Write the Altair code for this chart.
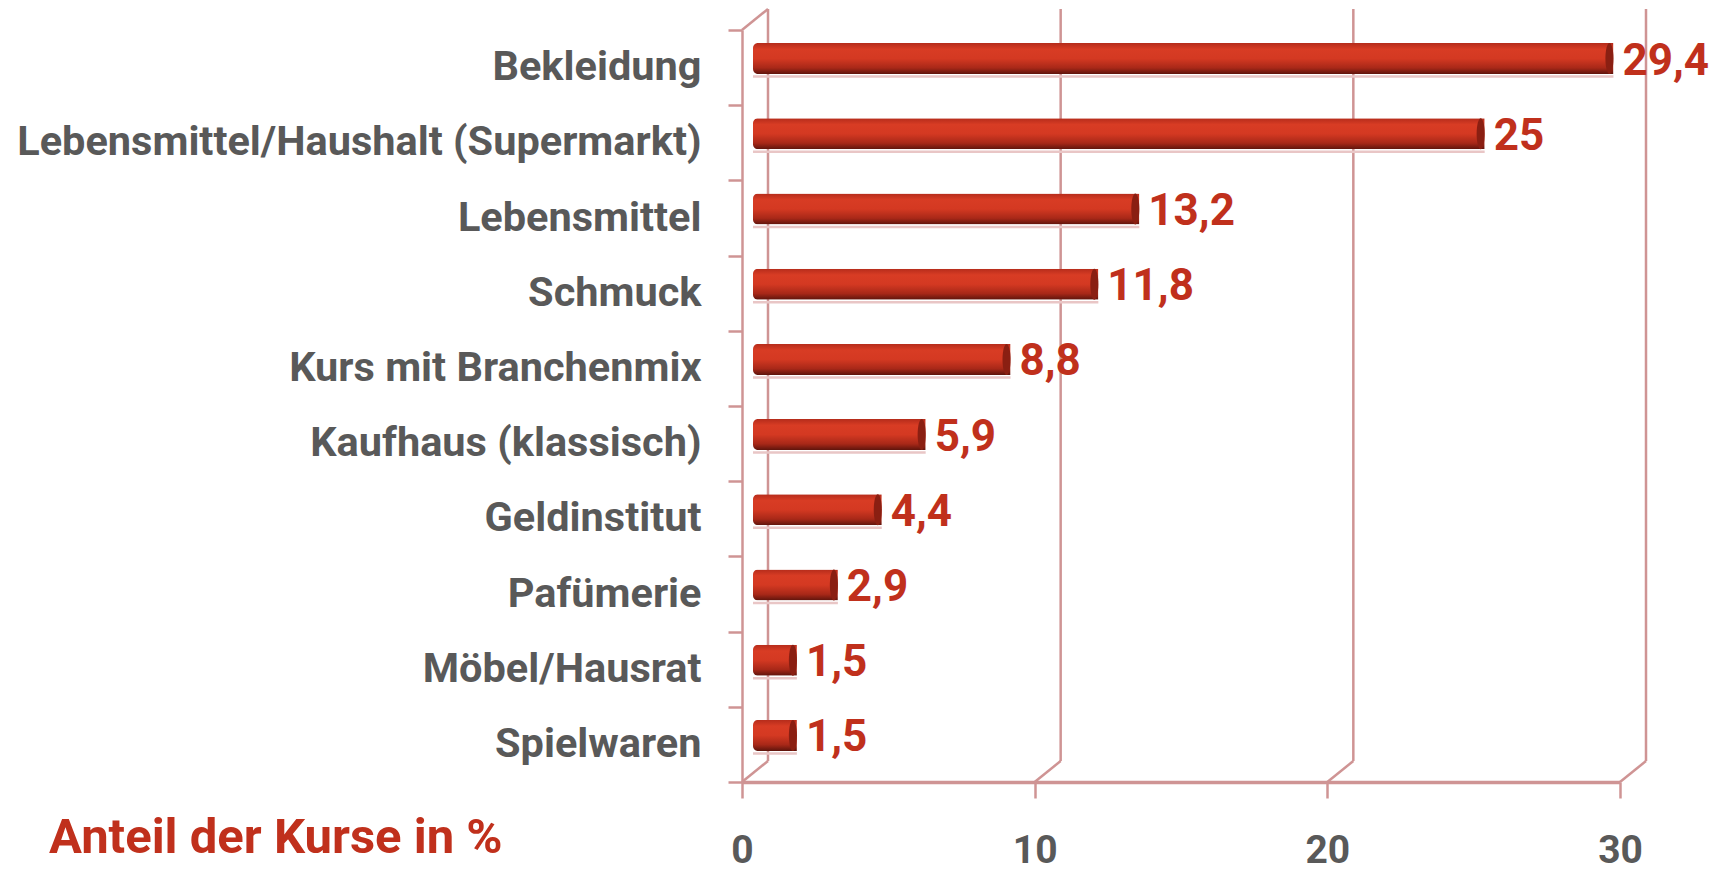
import altair as alt
import pandas as pd

categories = [
    "Bekleidung",
    "Lebensmittel/Haushalt (Supermarkt)",
    "Lebensmittel",
    "Schmuck",
    "Kurs mit Branchenmix",
    "Kaufhaus (klassisch)",
    "Geldinstitut",
    "Pafümerie",
    "Möbel/Hausrat",
    "Spielwaren",
]
values = [29.4, 25, 13.2, 11.8, 8.8, 5.9, 4.4, 2.9, 1.5, 1.5]
tick_values = [0, 10, 20, 30]
title_text = "Anteil der Kurse in %"

df = pd.DataFrame({"Branche": categories, "Anteil": values})
ticks_df = pd.DataFrame({"t": tick_values})
zero_df = pd.DataFrame({"t": [tick_values[0]]})
title_df = pd.DataFrame({"t": [title_text]})

FONT = "Roboto"
PINK = "#CF9494"
GREY = "#595959"
RED = "#C0301C"
W, H = 878, 752
DEPTH = 26   # back-wall offset in px
RISE = 21
MID = 11     # bars sit half-way between front and back

front = alt.Scale(domain=[0, 30], nice=False, zero=True, range=[0, W])
mid = alt.Scale(domain=[0, 30], nice=False, zero=True, range=[MID, W + MID])
back = alt.Scale(domain=[0, 30], nice=False, zero=True, range=[DEPTH, W + DEPTH])
yscale = alt.Scale(paddingInner=0, paddingOuter=0)

xaxis = alt.Axis(
    values=tick_values, grid=False, title=None, format="d", labelFlush=False,
    domainColor=PINK, domainWidth=3.5, tickColor=PINK, tickWidth=2.5, tickSize=16,
    labelFont=FONT, labelFontSize=39, labelFontWeight="bold", labelColor=GREY,
    labelPadding=33,
)
yaxis = alt.Axis(
    title=None, domainColor=PINK, domainWidth=2.5, tickColor=PINK, tickWidth=2.5,
    tickSize=14, tickBand="extent",
    labelFont=FONT, labelFontSize=41.5, labelFontWeight="bold", labelColor=GREY,
    labelPadding=27, labelLimit=900,
)

grid = alt.Chart(ticks_df).mark_rule(color=PINK, strokeWidth=2.5).encode(
    x=alt.X("t:Q", scale=back, axis=None),
    y=alt.value(-RISE), y2=alt.value(H - RISE),
)
diag = alt.Chart(ticks_df).mark_rule(color=PINK, strokeWidth=2.5, x2Offset=DEPTH).encode(
    x=alt.X("t:Q", scale=front, axis=xaxis), x2="t:Q",
    y=alt.value(H), y2=alt.value(H - RISE),
)
top_diag = alt.Chart(zero_df).mark_rule(color=PINK, strokeWidth=2.5, x2Offset=DEPTH).encode(
    x=alt.X("t:Q", scale=front, axis=None), x2="t:Q",
    y=alt.value(0), y2=alt.value(-RISE),
)

gradient = alt.Gradient(
    gradient="linear", x1=0, x2=0, y1=0, y2=1,
    stops=[
        alt.GradientStop(offset=0, color="#B52C1B"),
        alt.GradientStop(offset=0.2, color="#D83C24"),
        alt.GradientStop(offset=0.5, color="#D43922"),
        alt.GradientStop(offset=0.8, color="#A82818"),
        alt.GradientStop(offset=1, color="#5E140C"),
    ],
)

ydef = alt.Y("Branche:N", sort=categories, scale=yscale, axis=yaxis)

shadow = alt.Chart(df).mark_rule(color="#E9C6C6", strokeWidth=2.5, yOffset=9).encode(
    x=alt.X("Anteil:Q", scale=mid, axis=None), x2=alt.datum(0), y=ydef,
)

bars = alt.Chart(df).mark_bar(
    size=31, yOffset=-9,
    cornerRadiusTopLeft=5, cornerRadiusBottomLeft=5, color=gradient,
).encode(x=alt.X("Anteil:Q", scale=mid, axis=None), y=ydef)

ellipse = "M0,-1 A0.26,1 0 1,1 0,1 A0.26,1 0 1,1 0,-1 Z"
caps = alt.Chart(df).mark_point(
    shape=ellipse, size=961, filled=True, color="#8A1F12", opacity=1,
    strokeWidth=0, xOffset=-4, yOffset=-9,
).encode(x=alt.X("Anteil:Q", scale=mid, axis=None), y=ydef)

labels = alt.Chart(df).transform_calculate(
    label="replace(toString(datum.Anteil), '.', ',')"
).mark_text(
    align="left", baseline="middle", xOffset=9, yOffset=-6,
    font=FONT, fontSize=44, fontWeight="bold", color=RED,
).encode(x=alt.X("Anteil:Q", scale=mid, axis=None), y=ydef, text="label:N")

title = alt.Chart(title_df).mark_text(
    align="left", baseline="middle", font=FONT, fontSize=49,
    fontWeight="bold", color=RED,
).encode(x=alt.value(-693), y=alt.value(808), text="t:N")

chart = alt.layer(grid, diag, top_diag, shadow, bars, caps, labels, title).resolve_scale(
    x="independent"
).properties(
    width=W, height=H,
    autosize=alt.AutoSizeParams(type="none"),
    padding={"left": 742, "top": 30, "right": 93, "bottom": 89},
    background="white",
).configure_view(stroke=None)

chart.save("out.html", embed_options={"renderer": "svg", "actions": False})
